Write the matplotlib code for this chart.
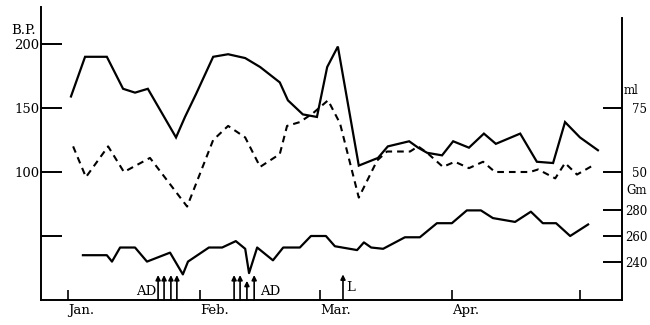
import matplotlib
matplotlib.use("Agg")
import matplotlib.pyplot as plt

plt.rcParams['font.family'] = ['DejaVu Serif']
FS = 9.5
FSR = 8.5

# ---- data (x = days since 1 Jan) ----
sys_days = [0.7, 4.0, 9.1, 12.9, 15.7, 18.7, 25.3, 27.4, 30.0, 34.0, 37.5, 41.5, 45.0, 49.6, 51.5,
            55.0, 58.3, 60.7, 63.2, 68.1, 72.6, 74.9, 79.9, 82.0, 84.1, 87.6, 90.2, 93.9, 97.4,
            100.2, 105.9, 109.8, 113.6, 116.4, 119.9, 124.1]
sys_vals = [159, 190, 190, 165, 162, 165, 127, 143, 161, 190, 192, 189, 182, 170, 156,
            145, 143, 182, 198, 105, 111, 120, 124, 119, 115, 113, 124, 119, 130,
            122, 130, 108, 107, 139, 127, 117]

dia_days = [1.2, 4.2, 9.4, 13.1, 19.2, 27.9, 34.0, 37.5, 41.5, 45.0, 49.6, 51.3, 54.3, 57.4,
            60.9, 63.7, 68.1, 72.4, 74.7, 80.1, 82.0, 84.1, 87.8, 90.6, 93.9, 97.2, 100.0,
            108.2, 110.1, 114.1, 116.4, 119.2, 123.4]
dia_vals = [120, 96, 120, 100, 111, 73, 125, 136, 127, 104, 114, 136, 139, 146,
            156, 138, 80, 109, 116, 116, 120, 115, 104, 108, 103, 108, 100,
            100, 102, 95, 107, 98, 106]

wt_days = [3.5, 9.1, 10.3, 12.2, 15.7, 18.5, 23.9, 26.9, 28.1, 33.0, 36.1, 39.3, 41.5, 42.4,
           44.3, 48.0, 50.4, 54.3, 56.9, 60.4, 62.5, 67.7, 69.3, 71.0, 73.8, 78.9, 82.4,
           86.4, 89.9, 93.4, 96.7, 99.5, 104.7, 108.4, 111.2, 114.3, 117.6, 121.8]
wt_vals = [245, 245, 240, 251, 251, 240, 247, 230, 240, 251, 251, 256, 250, 231,
           251, 241, 251, 251, 260, 260, 252, 249, 255, 251, 250, 259, 259,
           270, 270, 280, 280, 274, 271, 279, 270, 270, 260, 269]

ad1_days = [21.1, 22.5, 24.1, 25.5]
ad1_tops = [19.5, 19.5, 19.5, 19.5]
ad2_days = [38.9, 40.3, 41.9, 43.6]
ad2_tops = [19.5, 19.5, 15.0, 19.5]
l_days = [64.4]
l_tops = [20.0]

month_days = [0, 31, 59, 90, 120]
month_labels = ['Jan.', 'Feb.', 'Mar.', 'Apr.', '']
bp_ticks = [50, 100, 150, 200]
bp_labels = ['', '100', '150', '200']
ml_ticks = [50, 75]
ml_labels = ['50', '75']
gm_ticks = [240, 260, 280]
gm_labels = ['240', '260', '280']

XMIN, XMAX = -6.32, 129.74
YMIN, YMAX = 0, 228.9

fig = plt.figure(figsize=(6.5, 3.25), dpi=100)
ax = fig.add_axes([41/650, 25/325, 581/650, 293/325])
ax.set_xlim(XMIN, XMAX)
ax.set_ylim(YMIN, YMAX)

lw = 1.6
ax.plot(sys_days, sys_vals, color='black', lw=lw, solid_joinstyle='miter')
ax.plot(dia_days, dia_vals, color='black', lw=1.5, linestyle=(0, (3.2, 2.4)))

# spines
ax.spines['top'].set_visible(False)
for s in ['left', 'bottom', 'right']:
    ax.spines[s].set_linewidth(1.4)
ax.spines['right'].set_bounds(YMIN, 220.3)

ax.set_xticks(month_days)
ax.set_xticklabels(month_labels, ha='left', fontsize=FS)
ax.tick_params(axis='x', direction='in', length=7, width=1.2, pad=3)
ax.set_yticks(bp_ticks)
ax.set_yticklabels(bp_labels, fontsize=FS)
ax.tick_params(axis='y', direction='in', length=15, width=1.4, pad=1)

# ml axis (right)
axm = ax.twinx()
axm.set_ylim(YMIN / 2, YMAX / 2)
axm.set_yticks(ml_ticks)
axm.set_yticklabels(ml_labels, fontsize=FSR)
axm.tick_params(axis='y', direction='in', length=13.5, width=1.4, pad=7.5)
for s in axm.spines.values():
    s.set_visible(False)

# Gm axis (right)
axg = ax.twinx()
axg.set_ylim(YMIN + 210, YMAX + 210)
axg.set_yticks(gm_ticks)
axg.set_yticklabels(gm_labels, fontsize=FSR)
axg.tick_params(axis='y', direction='in', length=13.5, width=1.4, pad=2.5)
for s in axg.spines.values():
    s.set_visible(False)
axg.plot(wt_days, wt_vals, color='black', lw=lw)

# event arrows
def arrows(days, tops):
    for d, t in zip(days, tops):
        ax.annotate('', xy=(d, t), xytext=(d, 0),
                    arrowprops=dict(arrowstyle='-|>', lw=1.2, color='black',
                                    mutation_scale=7, shrinkA=0, shrinkB=0))

arrows(ad1_days, ad1_tops)
arrows(ad2_days, ad2_tops)
arrows(l_days, l_tops)
ax.text(ad1_days[0] - 0.5, 6.5, 'AD', ha='right', va='center', fontsize=FS)
ax.text(ad2_days[-1] + 1.3, 6.5, 'AD', ha='left', va='center', fontsize=FS)
ax.text(l_days[0] + 0.7, 10, 'L', ha='left', va='center', fontsize=FS)

fig.text(23.5/650, 1 - 30/325, 'B.P.', ha='center', va='center', fontsize=FS)
fig.text(624/650, 1 - 90/325, 'ml', ha='left', va='center', fontsize=FSR)
fig.text(626/650, 1 - 191/325, 'Gm', ha='left', va='center', fontsize=FSR)

fig.savefig('out.png', dpi=100)
